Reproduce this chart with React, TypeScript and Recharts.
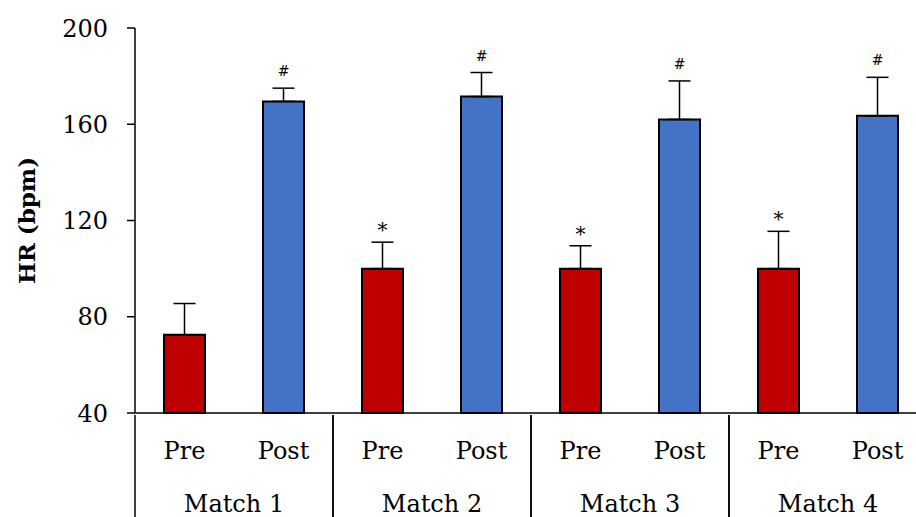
import React from 'react';
import { ComposedChart, Bar, Line, XAxis, YAxis, ErrorBar, LabelList, Cell } from 'recharts';

const matches = ['Match 1', 'Match 2', 'Match 3', 'Match 4'];
const phases = ['Pre', 'Post'];
const preHR = [72.5, 100, 100, 100];
const preErr = [13, 11, 9.5, 15.5];
const postHR = [169.5, 171.5, 162, 163.5];
const postErr = [5.5, 10, 16, 16];
const preMarks = ['', '*', '*', '*'];
const postMarks = ['#', '#', '#', '#'];
const yTicks = [40, 80, 120, 160, 200];

const PRE_COLOR = '#C00000';
const POST_COLOR = '#4472C4';
const FONT = '"DejaVu Serif", serif';

const CHART_W = 940;
const CHART_H = 530;
const LEFT = 135;
const RIGHT = 13;
const CAT_W = (CHART_W - LEFT - RIGHT) / 8;

const data = matches.flatMap((m, i) => [
  { match: m, phase: phases[0], hr: preHR[i], err: [0, preErr[i]], top: preHR[i] + preErr[i], mark: preMarks[i], color: PRE_COLOR },
  { match: m, phase: phases[1], hr: postHR[i], err: [0, postErr[i]], top: postHR[i] + postErr[i], mark: postMarks[i], color: POST_COLOR },
]);

const XTick = (props: any) => {
  const { x, y, payload } = props;
  const idx = payload.index;
  const row = data[idx];
  return (
    <g>
      <text x={x} y={y + 44} textAnchor="middle" fontFamily={FONT} fontSize={24} fill="#000">
        {row.phase}
      </text>
      {idx % 2 === 0 && (
        <>
          <text x={x + CAT_W / 2} y={y + 97} textAnchor="middle" fontFamily={FONT} fontSize={24} fill="#000">
            {row.match}
          </text>
          <line x1={x - CAT_W / 2} y1={y} x2={x - CAT_W / 2} y2={y + 130} stroke="#000" strokeWidth={1.5} />
          <line x1={x + (3 * CAT_W) / 2} y1={y} x2={x + (3 * CAT_W) / 2} y2={y + 130} stroke="#000" strokeWidth={1.5} />
        </>
      )}
    </g>
  );
};

const renderMark = (props: any) => {
  const { x, y, value } = props;
  if (!value) return null;
  const star = value === '*';
  return (
    <text x={x} y={star ? y - 5 : y - 12} textAnchor="middle" fontFamily={FONT} fontSize={star ? 20 : 14} fill="#000">
      {value}
    </text>
  );
};

export default function App() {
  return (
    <div style={{ position: 'absolute', left: 0, top: 0, width: 916, height: 517, overflow: 'hidden', background: '#fff' }}>
      <ComposedChart width={CHART_W} height={CHART_H} data={data} margin={{ top: 28, right: RIGHT, left: 0, bottom: 0 }}>
        <XAxis
          dataKey="phase"
          height={117}
          interval={0}
          tickLine={false}
          tickSize={0}
          tick={<XTick />}
          axisLine={{ stroke: '#000', strokeWidth: 1.5 }}
        />
        <YAxis
          width={LEFT}
          domain={[40, 200]}
          ticks={yTicks}
          tickSize={8}
          tickMargin={19}
          tick={{ fill: '#000', fontSize: 24, fontFamily: FONT }}
          axisLine={{ stroke: '#000', strokeWidth: 1.5 }}
          tickLine={{ stroke: '#000', strokeWidth: 1.5 }}
          label={{
            value: 'HR (bpm)',
            angle: -90,
            position: 'insideLeft',
            offset: 27,
            style: { textAnchor: 'middle', fontFamily: FONT, fontSize: 23, fontWeight: 'bold', fill: '#000' },
          }}
        />
        <Bar dataKey="hr" barSize={41} stroke="#000" strokeWidth={2} isAnimationActive={false}>
          {data.map((d, i) => (
            <Cell key={`cell-${i}`} fill={d.color} />
          ))}
          <ErrorBar dataKey="err" direction="y" width={11} stroke="#000" strokeWidth={1.5} />
        </Bar>
        <Line dataKey="top" stroke="none" dot={false} activeDot={false} legendType="none" isAnimationActive={false}>
          <LabelList dataKey="mark" content={renderMark} />
        </Line>
      </ComposedChart>
    </div>
  );
}
